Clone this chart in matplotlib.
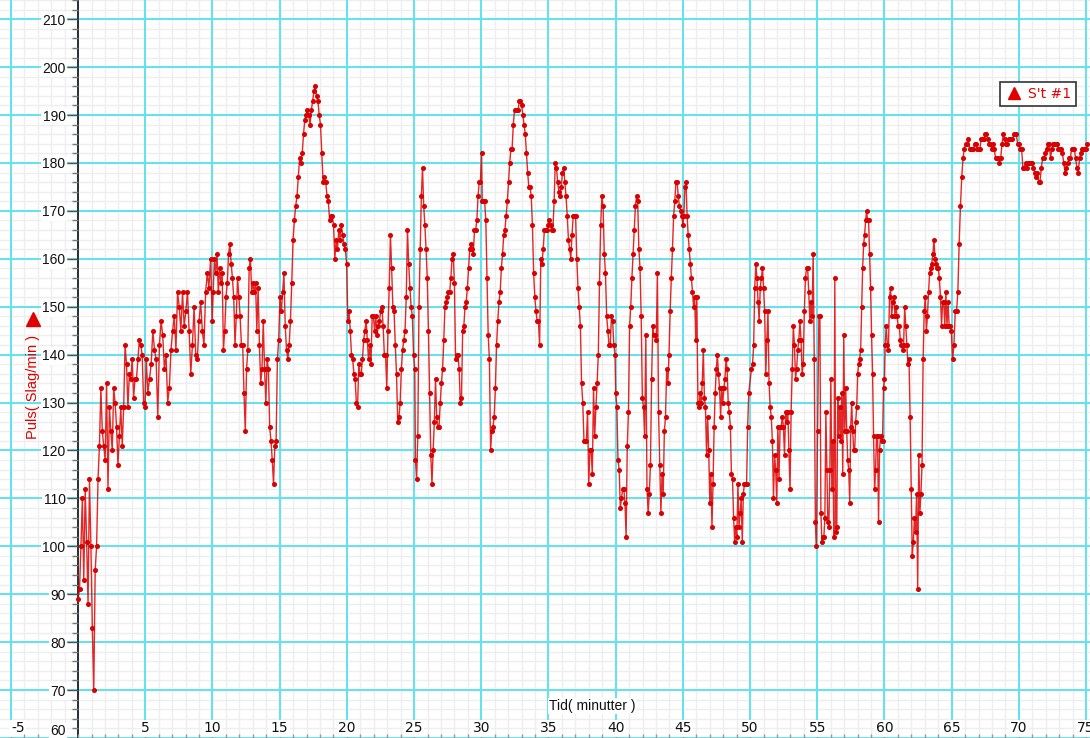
import numpy as np
import matplotlib
matplotlib.use("Agg")
import matplotlib.pyplot as plt
from matplotlib.lines import Line2D
from matplotlib.ticker import MultipleLocator

# heart rate readings (slag/min), one list per 5-minute window
puls_00 = [89, 91, 100, 110, 93, 112, 101, 88, 114, 100, 83, 70, 95, 100, 114, 121, 133, 124, 121, 118,
           134, 112, 129, 124, 120, 133, 130, 125, 117, 123, 129, 121, 129, 142, 138, 129, 136, 135, 139, 131,
           135, 135, 139, 143, 142, 140, 130, 129]
puls_05 = [139, 132, 135, 138, 145, 141, 139, 127, 142, 147, 144, 137, 140, 130, 133, 141, 145, 148, 141, 153,
           150, 145, 153, 146, 149, 153, 145, 136, 142, 150, 140, 139, 147, 151, 145, 142, 153, 157, 154, 160, 147]
puls_10 = [153, 160, 157, 161, 153, 158, 155, 157, 141, 145, 152, 155, 161, 163, 159, 156, 152, 142, 148, 156,
           152, 148, 142, 142, 132, 124, 137, 141, 158, 160, 153, 155, 153, 155, 145, 154, 142, 134, 137, 147,
           137, 130, 139, 137, 125, 122, 118, 113, 121, 122, 139, 143, 152]
puls_15 = [149, 153, 157, 146, 141, 139, 142, 147, 155, 164, 168, 171, 173, 177, 181, 180, 182, 186, 189, 190,
           191, 190, 188, 191, 193, 195, 196, 194, 193, 190, 188, 182, 176, 177, 176, 173, 172, 168, 169, 169,
           167, 160, 164, 162, 166, 164, 167, 165, 163, 162, 159]
puls_20 = [147, 149, 145, 140, 139, 136, 135, 130, 129, 138, 136, 136, 139, 143, 145, 147, 143, 139, 142, 138,
           148, 148, 145, 148, 144, 146, 147, 149, 150, 146, 140, 140, 133, 145, 154, 165, 158, 150, 149, 142,
           136, 126, 127, 130, 137, 141, 143, 145, 152, 166, 159, 154, 150, 148, 140, 137]
puls_25 = [118, 114, 123, 150, 162, 173, 179, 171, 167, 162, 156, 145, 132, 119, 113, 120, 126, 135, 127, 125,
           125, 130, 134, 137, 143, 150, 151, 152, 153, 153, 156, 160, 161, 155, 139, 140, 140, 137, 130, 131,
           145, 146, 150, 151, 154, 158, 162, 163, 162, 161, 166, 166, 168, 173, 176, 176, 182]
puls_30 = [172, 172, 172, 168, 156, 144, 139, 120, 124, 125, 127, 133, 142, 147, 151, 153, 158, 161, 165, 166,
           169, 172, 176, 180, 183, 183, 188, 191, 191, 191, 191, 193, 193, 192, 190, 188, 186, 182, 178, 175,
           175, 173, 167, 157, 152, 149, 147, 147, 142, 160, 159, 162, 166, 166, 166, 167, 168]
puls_35 = [167, 166, 166, 172, 180, 179, 176, 174, 173, 175, 178, 179, 176, 173, 169, 164, 162, 160, 165, 169,
           169, 169, 160, 154, 150, 146, 134, 130, 122, 122, 122, 128, 113, 120, 120, 115, 133, 123, 129, 134,
           140, 155, 167, 173, 171, 161, 157, 148, 145, 142, 142, 148, 147, 142, 140]
puls_40 = [132, 129, 118, 116, 108, 110, 112, 112, 109, 102, 121, 128, 146, 150, 156, 161, 166, 171, 173, 172,
           162, 158, 148, 131, 129, 123, 144, 112, 107, 111, 117, 135, 146, 144, 144, 143, 157, 128, 117, 107,
           115, 111, 124, 127, 137, 134, 140, 149, 156, 162, 169, 172, 176, 176, 173, 171, 170, 169, 167]
puls_45 = [169, 175, 176, 169, 165, 162, 159, 156, 153, 150, 152, 143, 152, 130, 129, 132, 130, 134, 141, 131,
           129, 119, 127, 120, 109, 115, 104, 113, 125, 132, 137, 140, 136, 133, 127, 133, 130, 133, 135, 139,
           137, 130, 128, 125, 115, 114, 106, 101, 104, 102, 113, 104, 107, 110, 101, 111, 113, 113, 113, 125, 132]
puls_50 = [137, 138, 142, 154, 159, 156, 151, 147, 154, 156, 158, 154, 149, 136, 143, 149, 134, 129, 127, 122,
           110, 119, 116, 109, 125, 114, 125, 125, 127, 125, 119, 128, 126, 128, 120, 112, 128, 137, 146, 142,
           135, 137, 141, 143, 147, 143, 136, 138, 149, 156, 158, 158, 153, 147, 151, 148, 161, 139, 105, 100, 124]
puls_55 = [148, 148, 107, 101, 102, 102, 106, 128, 116, 105, 104, 116, 135, 112, 122, 102, 156, 103, 104, 131,
           123, 129, 122, 132, 115, 144, 124, 133, 124, 118, 116, 109, 125, 130, 124, 120, 120, 126, 129, 136,
           138, 139, 141, 150, 158, 163, 165, 168, 170, 168, 168, 161, 154, 144, 136, 123, 112, 116, 123, 123,
           105, 120, 123, 122, 122, 133, 135]
puls_60 = [142, 146, 142, 141, 152, 154, 148, 151, 152, 148, 150, 148, 146, 146, 143, 142, 141, 142, 150, 146,
           142, 138, 139, 127, 112, 98, 101, 106, 103, 111, 91, 119, 107, 111, 117, 139, 149, 152, 145, 148,
           153, 157, 158, 159, 161, 164, 160, 159, 158, 158, 156, 152, 146, 151, 151, 146, 153, 146, 151, 146,
           146, 145]
puls_65 = [139, 142, 149, 149, 153, 163, 171, 177, 181, 183, 184, 184, 185, 183, 183, 183, 183, 184, 184, 183,
           183, 183, 185, 185, 185, 186, 186, 185, 184, 184, 183, 184, 183, 181, 181, 181, 180, 181, 184, 186,
           185, 184, 184, 185, 185, 185, 185, 186, 186, 186, 184, 184]
puls_70 = [183, 183, 179, 179, 180, 179, 180, 180, 180, 180, 179, 178, 177, 178, 176, 176, 179, 181, 181, 182,
           183, 184, 184, 181, 183, 184, 184, 184, 184, 183, 183, 183, 182, 180, 178, 179, 180, 181, 181, 183,
           183, 183, 181, 179, 178, 181, 182, 183, 183, 183, 183, 184]

puls_windows = [puls_00, puls_05, puls_10, puls_15, puls_20, puls_25, puls_30, puls_35,
                puls_40, puls_45, puls_50, puls_55, puls_60, puls_65, puls_70]
# first and last sample time (minutter) in each window
t_first = [0.0, 5.07, 10.05, 15.12, 20.07, 25.10, 30.07, 35.15, 40.00, 45.07, 50.10, 55.12, 60.05, 65.07, 70.10]
t_last = [4.98, 9.98, 15.02, 19.98, 25.05, 30.02, 35.05, 39.95, 45.00, 49.90, 55.02, 60.00, 64.97, 70.00, 75.10]

x_ticks = [-5, 5, 10, 15, 20, 25, 30, 35, 40, 45, 50, 55, 60, 65, 70, 75]
y_ticks = list(range(60, 220, 10))

tid = np.concatenate([np.linspace(a, b, len(w)) for a, b, w in zip(t_first, t_last, puls_windows)])
puls = np.concatenate([np.array(w, float) for w in puls_windows])

W, H = 1090, 738
fig = plt.figure(figsize=(W / 100, H / 100), dpi=100)
ax = fig.add_axes([0, 0, 1, 1])
plt.rcParams['font.family'] = ['Liberation Sans', 'DejaVu Sans']

red = '#e00000'
cyan = '#62e2ee'
ax.plot(tid, puls, color=red, lw=1.0, alpha=0.85, zorder=3)
ax.plot(tid, puls, ls='none', marker='o', ms=2.6, color='#d80000', zorder=4)

ax.set_xlim(-5.81, 75.29)
ax.set_ylim(60, 214)

ax.xaxis.set_minor_locator(MultipleLocator(1))
ax.yaxis.set_minor_locator(MultipleLocator(2))
ax.set_xticks(x_ticks)
ax.set_xticklabels([str(v) for v in x_ticks])
ax.set_yticks(y_ticks)
ax.set_yticklabels([str(v) for v in y_ticks])

# grid drawn by hand so the cyan major lines sit on top of the light minor ones
ax.grid(False)
for xv in range(-6, 77):
    ax.axvline(xv, color='#eeeeee', lw=1.0, zorder=0.6)
for yv in range(60, 216, 2):
    ax.axhline(yv, color='#eeeeee', lw=1.0, zorder=0.6)
for xv in range(-5, 80, 5):
    ax.axvline(xv, color=cyan, lw=1.4, zorder=1)
for yv in y_ticks:
    ax.axhline(yv, color=cyan, lw=1.4, zorder=1)
ax.set_axisbelow(False)

for s in ['top', 'right', 'bottom']:
    ax.spines[s].set_visible(False)
ax.spines['left'].set_position(('data', 0))
ax.spines['left'].set_color('#222222')
ax.spines['left'].set_linewidth(1.3)
ax.spines['left'].set_zorder(2)

ax.tick_params(axis='y', which='major', direction='out', length=8, width=1, color='#555555',
               labelsize=10, pad=1, labelcolor='#111111')
ax.tick_params(axis='y', which='minor', direction='out', length=4, width=1, color='#777777')
ax.tick_params(axis='x', which='both', direction='in', length=3, width=1, color='#999999',
               labelsize=10, pad=-12, labelcolor='#111111')

for lbl in ax.get_yticklabels() + ax.get_xticklabels():
    lbl.set_bbox(dict(facecolor='white', edgecolor='none', pad=1.0))
ax.get_yticklabels()[0].set_va('bottom')
ax.get_xticklabels()[0].set_ha('left')

fig.text(592 / W, 1 - 706 / H, 'Tid( minutter )', ha='center', va='center', fontsize=10, color='#111111',
         bbox=dict(facecolor='white', edgecolor='none', pad=0.5))
fig.text(33 / W, 1 - 387 / H, 'Puls( Slag/min )', ha='center', va='center', rotation=90,
         fontsize=10.5, color=red)
fig.add_artist(Line2D([33 / W], [1 - 319 / H], marker='^', ms=10, color=red, ls='none',
                      transform=fig.transFigure))

handle = Line2D([], [], marker='^', ls='none', color=red, ms=9)
leg = ax.legend([handle], ["S't #1"], loc='upper left', bbox_to_anchor=(1000 / W, 1 - 82 / H),
                bbox_transform=fig.transFigure, fancybox=False, framealpha=1, edgecolor='#333333',
                prop={'family': 'DejaVu Sans', 'size': 10}, labelcolor=red, handletextpad=0.4,
                handlelength=1.3, borderpad=0.35, borderaxespad=0)
leg.get_frame().set_linewidth(1.2)
leg.set_zorder(6)

fig.savefig('out.png', dpi=100)
